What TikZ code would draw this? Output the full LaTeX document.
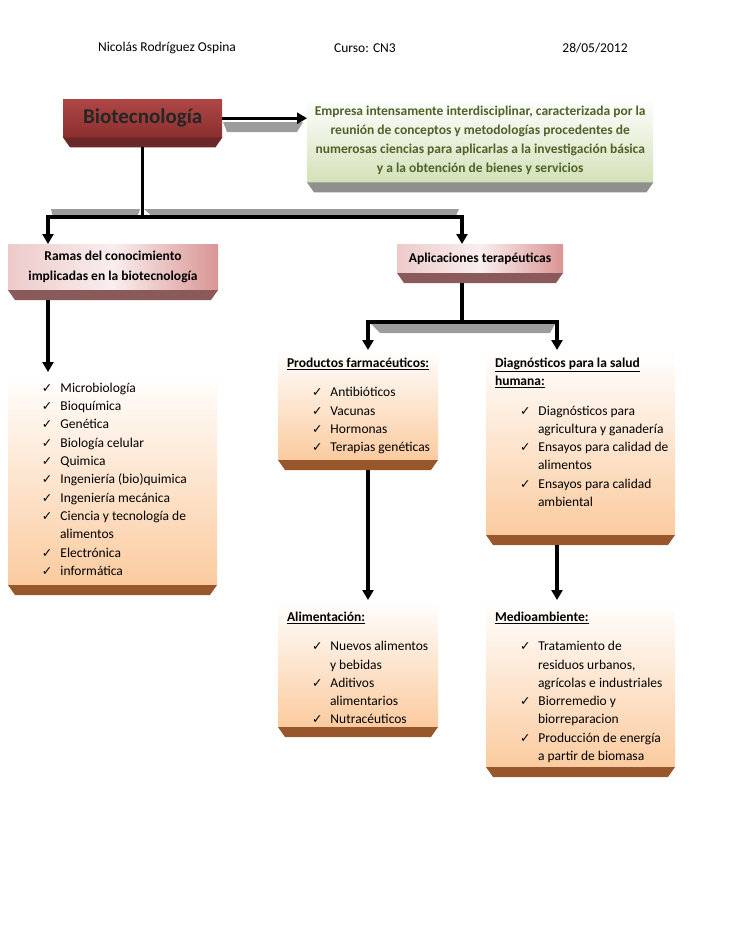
\documentclass[tikz,border=0pt]{standalone}
\usepackage{fontspec}
\setmainfont{Carlito}
\newfontfamily\simbolos{DejaVu Sans}
\usetikzlibrary{arrows.meta}
\definecolor{rojoA}{HTML}{AD4746}
\definecolor{rojoB}{HTML}{8C2F2F}
\definecolor{rojoC}{HTML}{6B2828}
\definecolor{verdeB}{HTML}{D3E1B8}
\definecolor{verdeT}{HTML}{4F6228}
\definecolor{grisB}{HTML}{8F8F8F}
\definecolor{rosaA}{HTML}{EDCACA}
\definecolor{rosaM}{HTML}{FAEEEE}
\definecolor{rosaB}{HTML}{D99594}
\definecolor{rosaC}{HTML}{8A5A5A}
\definecolor{durazB}{HTML}{FBCB9F}
\definecolor{durazC}{HTML}{97562B}
\definecolor{sombraG}{HTML}{9C9C9C}
\newcommand\marca{{\simbolos\fontsize{12.5}{12}\selectfont ✓}}
\newenvironment{marcas}{\begin{list}{\marca}{\setlength\leftmargin{52pt}\setlength\labelwidth{10pt}\setlength\labelsep{8pt}%
	\setlength\topsep{11pt}\setlength\partopsep{0pt}\setlength\itemsep{0pt}\setlength\parsep{0pt}}}{\end{list}}
\newcommand\bisel[2]{\fill[#2] (#1.south west) -- (#1.south east) -- ([xshift=-7pt,yshift=-10pt]#1.south east)
	-- ([xshift=7pt,yshift=-10pt]#1.south west) -- cycle;}
\tikzset{
	texto/.style={font=\fontsize{13.5}{18.3}\selectfont},
	caja/.style={texto, anchor=north west, inner xsep=0pt, inner ysep=4pt, outer sep=0pt},
	rosa/.style={texto, anchor=north west, inner sep=0pt, outer sep=0pt, align=center, font=\fontsize{13.5}{19.5}\selectfont\bfseries,
		left color=rosaA, right color=rosaB, middle color=rosaM},
	durazno/.style={caja, top color=white, bottom color=durazB},
	linea/.style={line width=3.3pt},
	flecha/.style={linea, -{Triangle[length=10pt,width=11pt]}},
	sombra/.style={fill=sombraG}
}
\begin{document}
\begin{tikzpicture}[x=1pt,y=-1pt]
\useasboundingbox (0,0) rectangle (728,942);
\node[texto] (autor) at (167,48) {Nicolás Rodríguez Ospina};
\node[texto] (curso) at (365,48) {Curso: CN3};
\node[texto] (fecha) at (595,48) {28/05/2012};

\node[anchor=north west, minimum width=159pt, minimum height=38pt, inner sep=0pt, top color=rojoA, bottom color=rojoB,
	font=\fontsize{21}{24}\selectfont\bfseries, text=black!85] (bio) at (63,99) {Biotecnología};
\node[anchor=north west, minimum width=346pt, minimum height=84pt, inner sep=0pt, top color=white, bottom color=verdeB,
	align=center, text=verdeT, font=\fontsize{13.5}{19}\selectfont\bfseries] (def) at (307,98)
	{Empresa intensamente interdisciplinar, caracterizada por la\\reunión de conceptos y metodologías procedentes de\\
	numerosas ciencias para aplicarlas a la investigación básica\\y a la obtención de bienes y servicios};
\node[rosa, minimum width=210pt, minimum height=46pt] (ramas) at (8,244) {Ramas del conocimiento\\implicadas en la biotecnología};
\node[rosa, minimum width=166pt, minimum height=29pt] (apl) at (397,244) {Aplicaciones terapéuticas};

\node[durazno] (lista) at (8,372) {\parbox[t][205pt][t]{209pt}{\raggedright\leftskip9pt\vspace*{-4pt}
	\begin{marcas}
	\item Microbiología
	\item Bioquímica
	\item Genética
	\item Biología celular
	\item Quimica
	\item Ingeniería (bio)quimica
	\item Ingeniería mecánica
	\item Ciencia y tecnología de\\alimentos
	\item Electrónica
	\item informática
	\end{marcas}}};
\node[durazno] (farma) at (278,350) {\parbox[t][102pt][t]{160pt}{\raggedright\leftskip9pt\vspace*{4pt}\underline{\textbf{Productos farmacéuticos:}}
	\begin{marcas}
	\item Antibióticos
	\item Vacunas
	\item Hormonas
	\item Terapias genéticas
	\end{marcas}}};
\node[durazno] (diag) at (486,350) {\parbox[t][177pt][t]{189pt}{\raggedright\leftskip9pt\vspace*{4pt}\underline{\textbf{Diagnósticos para la salud}}\\
	\underline{\textbf{humana:}}
	\begin{marcas}
	\item Diagnósticos para\\agricultura y ganadería
	\item Ensayos para calidad de\\alimentos
	\item Ensayos para calidad\\ambiental
	\end{marcas}}};
\node[durazno] (alim) at (278,600) {\parbox[t][119pt][t]{160pt}{\raggedright\leftskip9pt\vspace*{8pt}\underline{\textbf{Alimentación:}}
	\begin{marcas}
	\item Nuevos alimentos\\y bebidas
	\item Aditivos\\alimentarios
	\item Nutracéuticos
	\end{marcas}}};
\node[durazno] (medio) at (486,600) {\parbox[t][159pt][t]{189pt}{\raggedright\leftskip9pt\vspace*{8pt}\underline{\textbf{Medioambiente:}}
	\begin{marcas}
	\item Tratamiento de\\residuos urbanos,\\agrícolas e industriales
	\item Biorremedio y\\biorreparacion
	\item Producción de energía\\a partir de biomasa
	\end{marcas}}};

\bisel{bio}{rojoC}
\bisel{def}{grisB}
\bisel{ramas}{rosaC}
\bisel{apl}{rosaC}
\bisel{lista}{durazC}
\bisel{farma}{durazC}
\bisel{diag}{durazC}
\bisel{alim}{durazC}
\bisel{medio}{durazC}

\fill[sombra] (223,122) -- (303,122) -- (297,132) -- (227,132) -- cycle;
\fill[sombra] (51,209) -- (140,209) -- (137,218) -- (53,218) -- cycle;
\fill[sombra] (144,209) -- (459,209) -- (455,218) -- (154,218) -- cycle;
\fill[sombra] (371,324) -- (555,324) -- (550,333) -- (380,333) -- cycle;

\coordinate (j1) at ([yshift=-10pt]bio.south |- 0,207);
\coordinate (j2) at ([xshift=65pt]apl.south west |- 0,322);
\draw[flecha] (bio.east) -- (bio.east -| def.west);
\draw[linea] ([yshift=-10pt]bio.south) -- (j1);
\draw[flecha] (j1) -| ([xshift=40pt]ramas.north west);
\draw[flecha] (j1) -| ([xshift=65pt]apl.north west);
\draw[flecha] ([xshift=40pt,yshift=-10pt]ramas.south west) -- ([xshift=40pt]lista.north west);
\draw[linea] ([xshift=65pt,yshift=-10pt]apl.south west) -- (j2);
\draw[flecha] (j2) -| ([xshift=90pt]farma.north west);
\draw[flecha] (j2) -| ([xshift=71pt]diag.north west);
\draw[flecha] ([xshift=90pt,yshift=-10pt]farma.south west) -- ([xshift=90pt]alim.north west);
\draw[flecha] ([xshift=71pt,yshift=-10pt]diag.south west) -- ([xshift=71pt]medio.north west);
\end{tikzpicture}
\end{document}
